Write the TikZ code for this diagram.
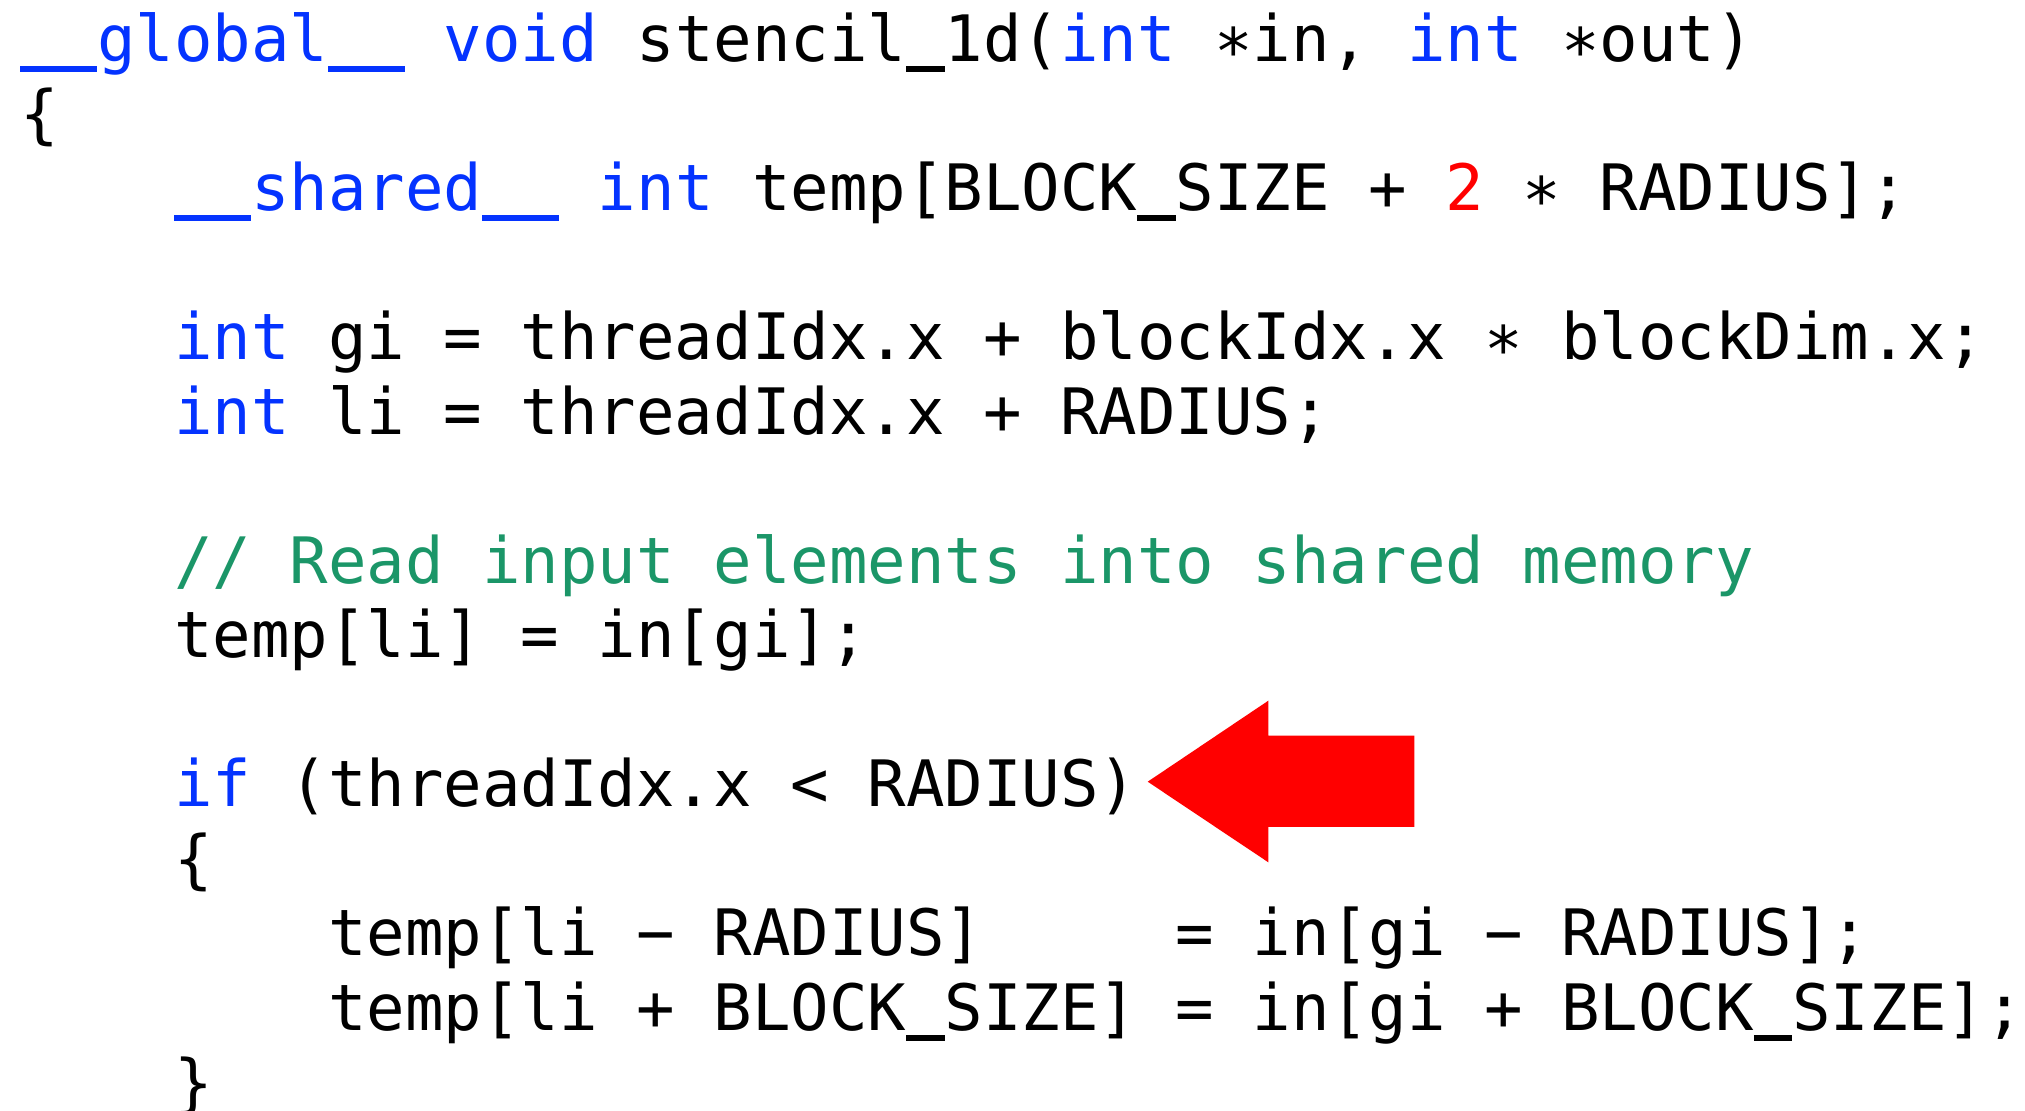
\documentclass[tikz,border=0pt]{standalone}
\usepackage{fontspec}
\setmonofont{DejaVu Sans Mono}
\definecolor{kw}{RGB}{4,51,255}
\definecolor{cmt}{RGB}{27,150,104}
\definecolor{num}{RGB}{255,0,0}
\definecolor{arrowred}{RGB}{255,0,0}
\newcommand{\kw}[1]{{\color{kw}#1}}
\newcommand{\us}{\rule[-0.16em]{0.60205em}{0.09em}}
\begin{document}
\begin{tikzpicture}[x=0.5pt,y=-0.5pt,
  codeline/.style={anchor=base west,inner sep=0pt,outer sep=0pt,
    font=\fontsize{32pt}{37pt}\selectfont\ttfamily,text=black}]
\useasboundingbox (0,0) rectangle (2025,1111);
\fill[white] (0,0) rectangle (2025,1111);
\def\cw{38.53}
\def\lp{74.5}
\def\ox{20}
\node[codeline] (l1) at (\ox,62) {\kw{\us\us global\us\us}\ \kw{void}\ stencil\us 1d(\kw{int}\ ∗in,\ \kw{int}\ ∗out)};
\node[codeline] (l2) at (\ox,62+\lp) {\{};
\node[codeline] (l3) at (\ox+4*\cw,62+2*\lp) {\kw{\us\us shared\us\us}\ \kw{int}\ temp[BLOCK\us SIZE\ +\ {\color{num}2}\ ∗\ RADIUS];};
\node[codeline] (l5) at (\ox+4*\cw,62+4*\lp) {\kw{int}\ gi\ =\ threadIdx.x\ +\ blockIdx.x\ ∗\ blockDim.x;};
\node[codeline] (l6) at (\ox+4*\cw,62+5*\lp) {\kw{int}\ li\ =\ threadIdx.x\ +\ RADIUS;};
\node[codeline,text=cmt] (l8) at (\ox+4*\cw,62+7*\lp) {//\ Read\ input\ elements\ into\ shared\ memory};
\node[codeline] (l9) at (\ox+4*\cw,62+8*\lp) {temp[li]\ =\ in[gi];};
\node[codeline] (l11) at (\ox+4*\cw,62+10*\lp) {\kw{if}\ (threadIdx.x\ <\ RADIUS)};
\node[codeline] (l12) at (\ox+4*\cw,62+11*\lp) {\{};
\node[codeline] (l13) at (\ox+8*\cw,62+12*\lp) {temp[li\ −\ RADIUS]\ \ \ \ \ =\ in[gi\ −\ RADIUS];};
\node[codeline] (l14) at (\ox+8*\cw,62+13*\lp) {temp[li\ +\ BLOCK\us SIZE]\ =\ in[gi\ +\ BLOCK\us SIZE];};
\node[codeline] (l15) at (\ox+4*\cw,62+14*\lp) {\}};
% red arrow pointing at the if line
\fill[arrowred] (1147.7,781.7) -- (1268.3,700.7) -- (1268.3,735.7) -- (1414.3,735.7)
  -- (1414.3,827) -- (1268.3,827) -- (1268.3,862.3) -- cycle;
\end{tikzpicture}
\end{document}
